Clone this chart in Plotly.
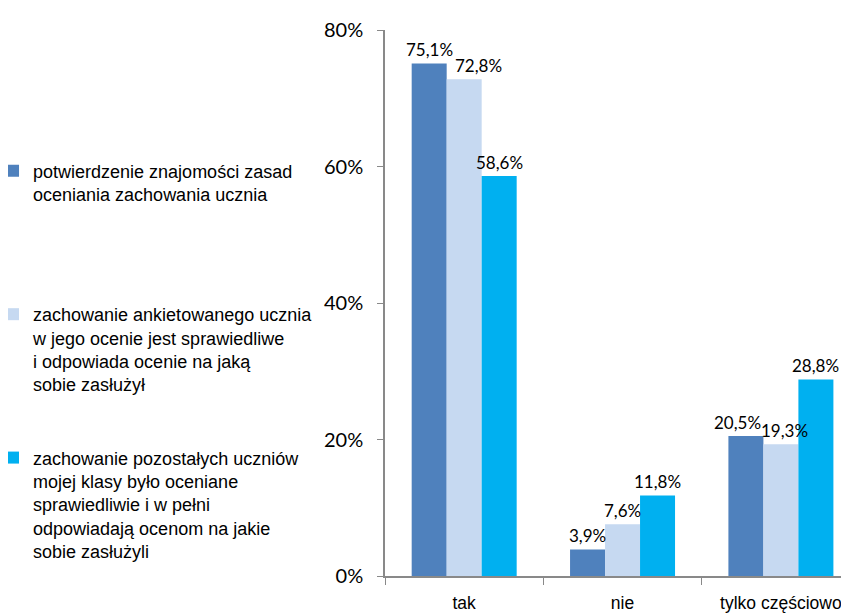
import plotly.graph_objects as go

categories = ["tak", "nie", "tylko częściowo"]
series_names = [
    "potwierdzenie znajomości zasad<br>oceniania zachowania ucznia",
    "zachowanie ankietowanego ucznia<br>w jego ocenie jest sprawiedliwe<br>i odpowiada ocenie na jaką<br>sobie zasłużył",
    "zachowanie pozostałych uczniów<br>mojej klasy było oceniane<br>sprawiedliwie i w pełni<br>odpowiadają ocenom na jakie<br>sobie zasłużyli",
]
s1 = [75.1, 3.9, 20.5]
s2 = [72.8, 7.6, 19.3]
s3 = [58.6, 11.8, 28.8]
colors = ["#4F81BD", "#C6D9F1", "#00B0F0"]
y_ticks = [0, 20, 40, 60, 80]
y_tick_labels = [f"{v}%" for v in y_ticks]

# style: small horizontal nudges of some data labels (px), as in the original
label_nudge = [[0, 0, -8], [14, 0, 4], [0, 0, 0]]

LINES_PER_ITEM = 6
W, H = 841, 605
DOMAIN_X0 = 377 / W
X_RANGE = [-0.5, 2.43]
BARGAP = 0.337


def pad_name(name):
    n = name.count("<br>") + 1
    return name + "<br>&nbsp;" * (LINES_PER_ITEM - n)


def fmt(v):
    return f"{v:.1f}%".replace(".", ",")


fig = go.Figure()
for name, vals, col in zip(series_names, [s1, s2, s3], colors):
    fig.add_trace(go.Bar(
        x=categories, y=vals, name=pad_name(name),
        marker=dict(color=col, line=dict(width=0)),
    ))

# data labels as annotations anchored to each bar's value
px_per_cat = W * (1 - DOMAIN_X0) / (X_RANGE[1] - X_RANGE[0])
bar_px = px_per_cat * (1 - BARGAP) / 3
for i, vals in enumerate([s1, s2, s3]):
    for j, v in enumerate(vals):
        fig.add_annotation(
            x=categories[j], y=v, text=fmt(v), showarrow=False,
            xanchor="center", yanchor="bottom",
            xshift=(i - 1) * bar_px + label_nudge[i][j], yshift=1,
            font=dict(family="Lato", size=17, color="#000000"),
        )

fig.update_layout(
    width=W, height=H,
    margin=dict(l=0, r=0, t=22, b=37, autoexpand=False),
    paper_bgcolor="white", plot_bgcolor="white",
    barmode="group", bargap=BARGAP, bargroupgap=0,
    showlegend=True,
    legend=dict(
        x=-0.0178, xanchor="left", y=0.7755, yanchor="top",
        valign="top", itemwidth=30,
        font=dict(family="Liberation Sans", size=18, color="#000000"),
        tracegroupgap=0, bgcolor="rgba(0,0,0,0)",
    ),
    xaxis=dict(
        domain=[DOMAIN_X0, 1], range=X_RANGE,
        showline=True, linecolor="#898989", linewidth=1.5,
        ticks="outside", tickson="boundaries", ticklen=7, tickcolor="#898989",
        tickfont=dict(family="Liberation Sans", size=17.5, color="#000000"),
        ticklabelstandoff=10,
        showgrid=False, zeroline=False,
    ),
    yaxis=dict(
        range=[0, 80], tickvals=y_ticks, ticktext=y_tick_labels,
        showline=True, linecolor="#898989", linewidth=1.5,
        ticks="outside", ticklen=6, tickcolor="#898989",
        tickfont=dict(family="Lato", size=20, color="#000000"),
        ticklabelstandoff=10,
        showgrid=False, zeroline=False,
    ),
)

fig.write_html("out.html")
